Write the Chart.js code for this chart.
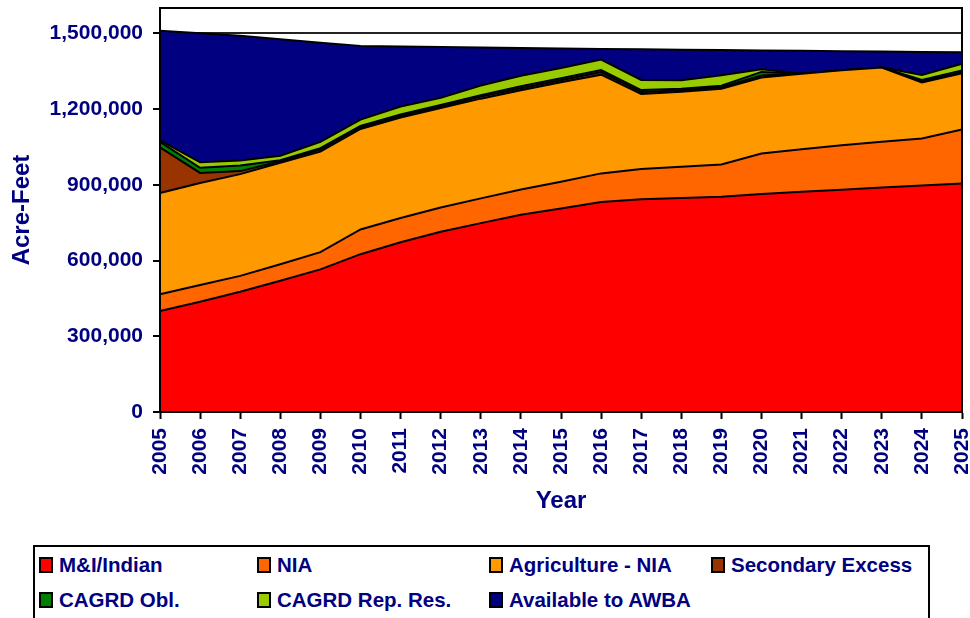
<!DOCTYPE html>
<html>
<head>
<meta charset="utf-8">
<script src="https://cdn.jsdelivr.net/npm/chart.js@4.4.1/dist/chart.umd.min.js"></script>
<style>
  body { margin: 0; background: #fff; font-family: "Liberation Sans", Arial, sans-serif; }
  #wrap { position: relative; width: 970px; height: 618px; overflow: hidden; }
  #chartBox { position: absolute; left: 0; top: 0; width: 970px; height: 540px; }
  #legend { position: absolute; left: 33px; top: 545px; width: 897px; height: 90px; border: 2px solid #000; box-sizing: border-box; }
  .item { position: absolute; display: flex; align-items: center; height: 24px; font-weight: bold; font-size: 20.5px; color: #000080; white-space: nowrap; }
  .swatch { width: 10px; height: 12px; border: 2px solid #000; margin-right: 6px; }
</style>
</head>
<body>
<div id="wrap">
  <div id="chartBox"><canvas id="chart" width="970" height="540"></canvas></div>
  <div id="legend"></div>
</div>
<script>
// years on the x axis
const years = ['2005', '2006', '2007', '2008', '2009', '2010', '2011', '2012', '2013', '2014', '2015',
               '2016', '2017', '2018', '2019', '2020', '2021', '2022', '2023', '2024', '2025'];

// acre-feet per layer (stacked, bottom to top)
const mAndIIndian = [400000, 437000, 476000, 520000, 565000, 625000, 672000, 714000, 748000, 781000, 806000,
                     832000, 843000, 848000, 852000, 863000, 872000, 880000, 889000, 897000, 905000];
const nia = [66000, 66000, 63000, 65000, 68000, 98000, 96000, 96000, 98000, 100000, 106000,
             113000, 119000, 123000, 128000, 161000, 169000, 176000, 181000, 186000, 214000];
const agricultureNia = [401000, 404000, 403000, 402000, 398000, 398000, 398000, 394000, 395000, 393000, 394000,
                        391000, 297000, 297000, 300000, 301000, 299000, 297000, 294000, 222000, 222000];
const secondaryExcess = [181000, 40000, 12000, 6000, 8000, 6000, 6000, 6000, 8000, 8000, 8000,
                         10000, 8000, 6000, 6000, 8000, 0, 0, 0, 5000, 6000];
const cagrdObl = [22000, 20000, 22000, 4000, 6000, 6000, 6000, 6000, 6000, 8000, 8000,
                  8000, 8000, 6000, 6000, 14000, 0, 0, 0, 5000, 6000];
const cagrdRepRes = [6000, 22000, 20000, 18000, 25000, 25000, 32000, 28000, 38000, 42000, 40000,
                     42000, 40000, 34000, 42000, 10000, 0, 0, 0, 20000, 26000];
const availableToAwba = [434000, 511000, 494000, 461000, 392000, 292000, 238000, 202000, 151000, 110000, 78000,
                         42000, 122000, 121000, 100000, 75000, 91000, 76000, 64000, 91000, 46000];

const yTickValues = [0, 300000, 600000, 900000, 1200000, 1500000];

const seriesNames = ['M&I/Indian', 'NIA', 'Agriculture - NIA', 'Secondary Excess',
                     'CAGRD Obl.', 'CAGRD Rep. Res.', 'Available to AWBA'];
const seriesColors = ['#ff0000', '#ff6600', '#ff9900', '#993300', '#008000', '#99cc00', '#000080'];
const seriesValues = [mAndIIndian, nia, agricultureNia, secondaryExcess, cagrdObl, cagrdRepRes, availableToAwba];

const navy = '#000080';
Chart.defaults.font.family = '"Liberation Sans", Arial, sans-serif';
Chart.defaults.font.weight = 'bold';
Chart.defaults.color = navy;

var datasets = [];
for (var i = 0; i < seriesNames.length; i++) {
    datasets.push({
        label: seriesNames[i],
        data: seriesValues[i],
        backgroundColor: seriesColors[i],
        borderColor: '#000',
        borderWidth: 2,
        pointRadius: 0,
        tension: 0,
        fill: i === 0 ? 'origin' : '-1'
    });
}

// outline round the plot area
const plotFrame = {
    id: 'plotFrame',
    afterDatasetsDraw(chart) {
        const a = chart.chartArea;
        const ctx = chart.ctx;
        ctx.save();
        ctx.strokeStyle = '#000';
        ctx.lineWidth = 2;
        ctx.strokeRect(a.left, a.top, a.right - a.left, a.bottom - a.top);
        ctx.restore();
    }
};

new Chart(document.getElementById('chart'), {
    type: 'line',
    data: { labels: years, datasets: datasets },
    plugins: [plotFrame],
    options: {
        responsive: false,
        animation: false,
        layout: { padding: { top: 8, right: 8, left: 0, bottom: 0 } },
        plugins: { legend: { display: false }, tooltip: { enabled: false } },
        scales: {
            x: {
                offset: false,
                grid: { drawOnChartArea: false, drawTicks: true, tickLength: 7, tickColor: '#000', tickWidth: 2 },
                border: { display: true, color: '#000', width: 2 },
                ticks: { minRotation: 90, maxRotation: 90, padding: 9, color: navy, font: { size: 21, weight: 'bold' } },
                title: { display: true, text: 'Year', color: navy, font: { size: 24, weight: 'bold' }, padding: { top: 0, bottom: 24 } },
                afterFit(scale) {
                    scale.height = 128;
                    scale.paddingLeft = 0;
                    scale.paddingRight = 0;
                }
            },
            y: {
                stacked: true,
                min: 0,
                max: 1600000,
                grid: { color: '#222', lineWidth: 2, drawTicks: true, tickLength: 7, tickColor: '#000', tickWidth: 2 },
                border: { display: true, color: '#000', width: 2 },
                afterBuildTicks(scale) {
                    scale.ticks = yTickValues.map(v => ({ value: v }));
                },
                ticks: {
                    padding: 10,
                    color: navy,
                    font: { size: 21, weight: 'bold' },
                    callback: v => v.toLocaleString('en-US')
                },
                title: { display: true, text: 'Acre-Feet', color: navy, font: { size: 24, weight: 'bold' }, padding: { top: 8, bottom: 0 } },
                afterFit(scale) {
                    scale.width = 160;
                    scale.paddingTop = 0;
                    scale.paddingBottom = 0;
                }
            }
        }
    }
});

// legend below the chart, two rows of four columns
const legendCols = [4, 222, 454, 676];
const legendRows = [6, 41];
const legendBox = document.getElementById('legend');
seriesNames.forEach((name, i) => {
    const item = document.createElement('div');
    item.className = 'item';
    item.style.left = legendCols[i % 4] + 'px';
    item.style.top = legendRows[Math.floor(i / 4)] + 'px';
    const sw = document.createElement('span');
    sw.className = 'swatch';
    sw.style.background = seriesColors[i];
    const txt = document.createElement('span');
    txt.textContent = name;
    item.appendChild(sw);
    item.appendChild(txt);
    legendBox.appendChild(item);
});
</script>
</body>
</html>
